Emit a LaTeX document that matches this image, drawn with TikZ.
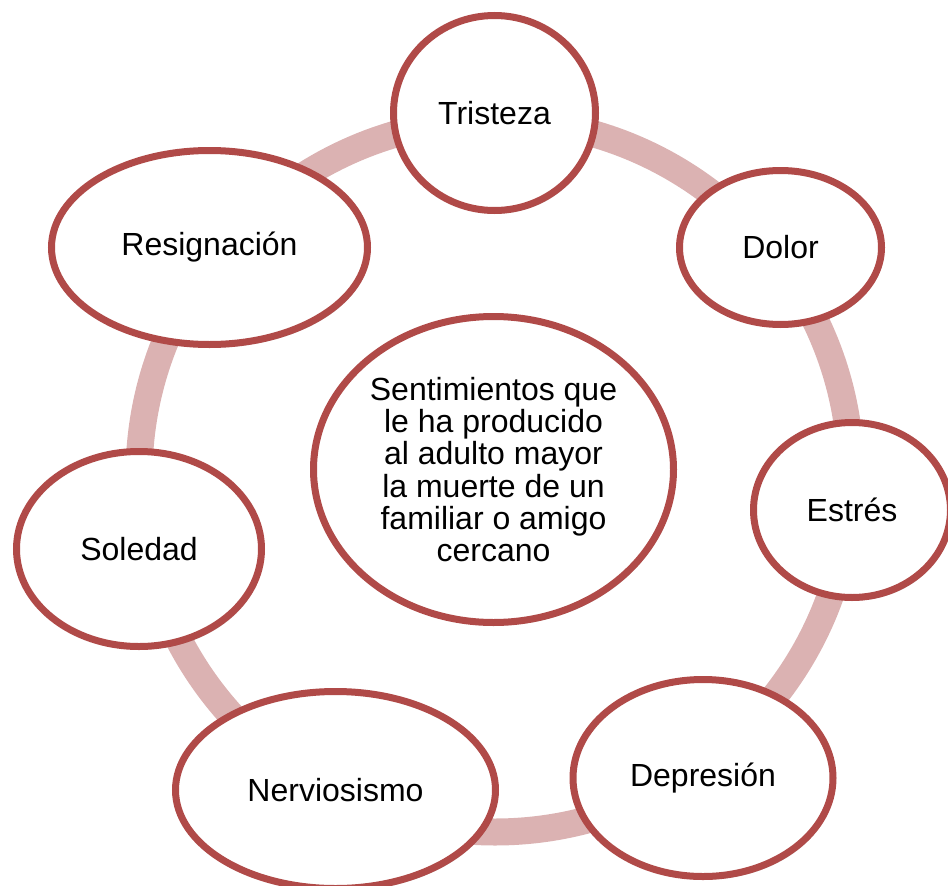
\documentclass[tikz,border=0pt]{standalone}
\usepackage{fontspec}
\setmainfont{Liberation Sans}
\usepackage{xcolor}
\usepackage{tikz}
\usetikzlibrary{shapes.geometric,shadows}
\definecolor{rimred}{RGB}{176,74,72}
\definecolor{ringpink}{RGB}{219,178,178}
\tikzset{
  feeling/.style={ellipse, draw=rimred, line width=7pt, fill=white, inner sep=0pt,
    font=\fontsize{32}{32.2}\selectfont, align=center,
    drop shadow={shadow xshift=2pt, shadow yshift=-3pt, opacity=.18, fill=black}},
  ring/.style={draw=ringpink, line width=27pt},
}
\begin{document}
\begin{tikzpicture}[x=1pt,y=-1pt]
  \useasboundingbox (0,0) rectangle (948,886);
  \coordinate (o) at (495,476);
  \draw[ring] (o) circle[radius=356pt];
  \node[feeling, minimum width=202pt, minimum height=195pt] (tri) at (494.5,113) {Tristeza};
  \node[feeling, minimum width=202pt, minimum height=154pt] (dol) at (780.5,247.5) {Dolor};
  \node[feeling, minimum width=197pt, minimum height=175pt] (est) at (852,510) {Estrés};
  \node[feeling, minimum width=260pt, minimum height=197pt] (dep) at (703,778) {Depresión};
  \node[feeling, minimum width=320pt, minimum height=197pt] (ner) at (335.5,790) {Nerviosismo};
  \node[feeling, minimum width=245pt, minimum height=195pt] (sol) at (139,549) {Soledad};
  \node[feeling, minimum width=316pt, minimum height=194pt] (res) at (209.5,247.5) {Resignación};
  \node[feeling, minimum width=360pt, minimum height=306pt] (cen) at (493.5,469.5)
    {Sentimientos que\\le ha producido\\al adulto mayor\\la muerte de un\\familiar o amigo\\cercano};
\end{tikzpicture}
\end{document}
